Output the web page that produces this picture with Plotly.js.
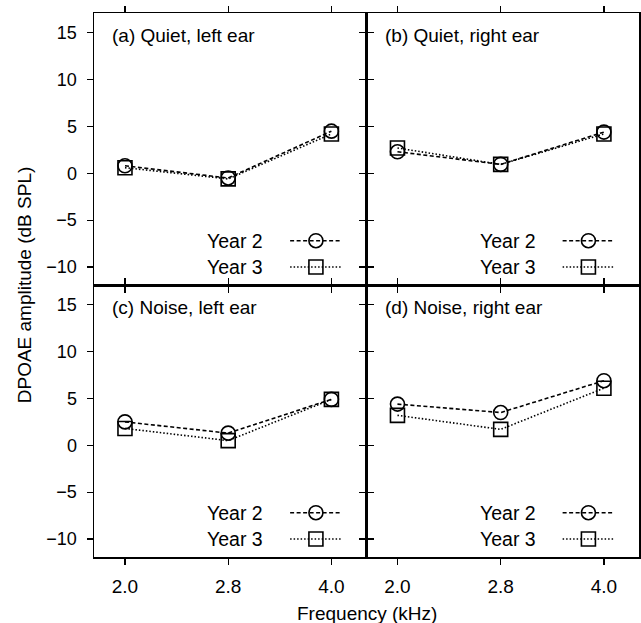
<!DOCTYPE html>
<html><head><meta charset="utf-8">
<script src="https://cdn.plot.ly/plotly-3.0.1.min.js"></script>
<style>html,body{margin:0;padding:0;background:#fff}#chart{width:641px;height:623px}</style>
</head><body><div id="chart"></div>
<script>
const freqs = ["2.0", "2.8", "4.0"];
const panelTitles = ["(a) Quiet, left ear", "(b) Quiet, right ear", "(c) Noise, left ear", "(d) Noise, right ear"];
const seriesNames = ["Year 2", "Year 3"];
// DPOAE amplitude (dB SPL), per panel
const quietLeftY2  = [0.8, -0.5, 4.5];
const quietLeftY3  = [0.6, -0.6, 4.2];
const quietRightY2 = [2.3, 0.95, 4.4];
const quietRightY3 = [2.7, 0.95, 4.2];
const noiseLeftY2  = [2.5, 1.3, 4.9];
const noiseLeftY3  = [1.8, 0.5, 4.9];
const noiseRightY2 = [4.4, 3.5, 6.9];
const noiseRightY3 = [3.2, 1.7, 6.1];
const yTicks = [-10, -5, 0, 5, 10, 15];

const panels = [
  {y2: quietLeftY2, y3: quietLeftY3, xa: "x", ya: "y"},
  {y2: quietRightY2, y3: quietRightY3, xa: "x2", ya: "y2"},
  {y2: noiseLeftY2, y3: noiseLeftY3, xa: "x3", ya: "y3"},
  {y2: noiseRightY2, y3: noiseRightY3, xa: "x4", ya: "y4"}
];
const FONT = "Liberation Sans, Arial, Helvetica, sans-serif";
const styles = [
  {dash: "4px,2.5px", symbol: "circle-open"},
  {dash: "1.5px,2px", symbol: "square-open"}
];
const traces = [];
panels.forEach(p => {
  [p.y2, p.y3].forEach((vals, k) => {
    traces.push({
      x: freqs, y: vals, xaxis: p.xa, yaxis: p.ya, type: "scatter", mode: "lines+markers",
      name: seriesNames[k], showlegend: false, cliponaxis: false,
      line: {color: "#000", width: 1.6, dash: styles[k].dash},
      marker: {symbol: styles[k].symbol, size: 14, color: "#000", line: {width: 1.6, color: "#000"}}
    });
  });
});

const xRange = [-0.3, 2.34];
const yRange = [-11.93, 17.12];
function xax(domain, showLabels) {
  return {domain: domain, type: "category", range: xRange, showline: true, mirror: "ticks",
    linecolor: "#000", linewidth: 1.5, ticks: "outside", ticklen: 6, tickwidth: 1.2, tickcolor: "#000",
    showgrid: false, zeroline: false, showticklabels: showLabels, ticklabelstandoff: 6,
    tickfont: {family: FONT, size: 19, color: "#000"}, fixedrange: true};
}
function yax(domain, showLabels) {
  return {domain: domain, range: yRange, tickvals: yTicks, ticktext: yTicks.map(v => v < 0 ? "\u2212" + Math.abs(v) : String(v)),
    showline: true, mirror: "ticks", linecolor: "#000", linewidth: 1.5, ticks: "outside", ticklen: 6, tickwidth: 1.2,
    tickcolor: "#000", showgrid: false, zeroline: false, showticklabels: showLabels, ticklabelstandoff: 6,
    tickfont: {family: FONT, size: 18, color: "#000"}, fixedrange: true};
}

const annotations = [];
const shapes = [];
const legendY = [-7.2, -10];
panels.forEach((p, i) => {
  annotations.push({xref: p.xa + " domain", yref: p.ya + " domain", x: 0.06, y: 0.963, xanchor: "left", yanchor: "top",
    text: panelTitles[i], showarrow: false, font: {family: FONT, size: 19, color: "#000"}});
  seriesNames.forEach((nm, k) => {
    annotations.push({xref: p.xa, yref: p.ya, x: 1.36, y: legendY[k], xanchor: "right", yanchor: "middle",
      text: nm, showarrow: false, font: {family: FONT, size: 19.5, color: "#000"}});
    shapes.push({type: "line", xref: p.xa, yref: p.ya, x0: 1.6, x1: 2.1, y0: legendY[k], y1: legendY[k],
      line: {color: "#000", width: 1.6, dash: styles[k].dash}});
    shapes.push({type: k === 0 ? "circle" : "rect", xref: p.xa, yref: p.ya, xsizemode: "pixel", ysizemode: "pixel",
      xanchor: 1.85, yanchor: legendY[k], x0: -7, x1: 7, y0: -7, y1: 7,
      line: {color: "#000", width: 1.6}, fillcolor: "rgba(0,0,0,0)"});
  });
});
annotations.push({xref: "paper", yref: "paper", x: 0.5, y: -0.08, xanchor: "center", yanchor: "top",
  text: "Frequency (kHz)", showarrow: false, font: {family: FONT, size: 19, color: "#000"}});
annotations.push({xref: "paper", yref: "paper", x: -0.128, y: 0.5, xanchor: "center", yanchor: "middle", textangle: -90,
  text: "DPOAE amplitude (dB SPL)", showarrow: false, font: {family: FONT, size: 19, color: "#000"}});

const layout = {
  width: 641, height: 623, paper_bgcolor: "#fff", plot_bgcolor: "#fff",
  margin: {l: 94, r: 2, t: 13, b: 66}, showlegend: false,
  font: {family: FONT, size: 18, color: "#000"},
  xaxis: xax([0, 0.5], false), yaxis: yax([0.5, 1], true),
  xaxis2: xax([0.5, 1], false), yaxis2: yax([0.5, 1], false),
  xaxis3: xax([0, 0.5], true), yaxis3: yax([0, 0.5], true),
  xaxis4: xax([0.5, 1], true), yaxis4: yax([0, 0.5], false),
  annotations: annotations, shapes: shapes
};
layout.xaxis.anchor = "y"; layout.yaxis.anchor = "x";
layout.xaxis2.anchor = "y2"; layout.yaxis2.anchor = "x2";
layout.xaxis3.anchor = "y3"; layout.yaxis3.anchor = "x3";
layout.xaxis4.anchor = "y4"; layout.yaxis4.anchor = "x4";

Plotly.newPlot("chart", traces, layout, {staticPlot: true, displayModeBar: false});
</script></body></html>
